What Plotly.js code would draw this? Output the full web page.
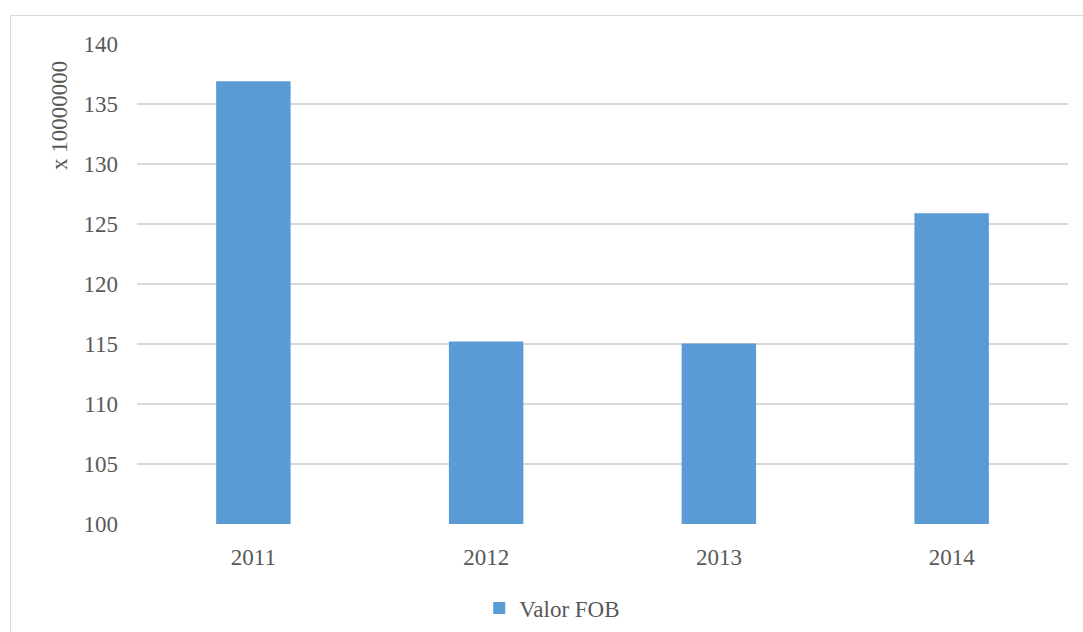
<!DOCTYPE html>
<html>
<head>
<meta charset="utf-8">
<script src="https://cdn.plot.ly/plotly-3.0.1.min.js"></script>
<style>
html,body{margin:0;padding:0;background:#fff;}
#chart{width:1083px;height:632px;}
</style>
</head>
<body>
<div id="chart"></div>
<script>
var years = ['2011', '2012', '2013', '2014'];
var valorFOB = [136.9, 115.2, 115.05, 125.9];
var seriesName = 'Valor FOB';
var yTitle = 'x 10000000';

var font = {family: 'Liberation Serif, Times New Roman, serif', size: 23, color: '#595959'};

var trace = {
  type: 'bar',
  x: years,
  y: valorFOB,
  name: seriesName,
  marker: {color: '#5b9bd5', line: {width: 0}},
  showlegend: true,
  hoverinfo: 'x+y'
};

var layout = {
  width: 1083,
  height: 632,
  margin: {l: 137, r: 15, t: 44, b: 108},
  paper_bgcolor: '#ffffff',
  plot_bgcolor: '#ffffff',
  font: font,
  bargap: 0.68,
  xaxis: {
    type: 'category',
    showgrid: false,
    showline: false,
    zeroline: false,
    ticks: '',
    tickfont: font,
    ticklabelstandoff: 17
  },
  yaxis: {
    range: [100, 140],
    dtick: 5,
    tick0: 100,
    showgrid: true,
    gridcolor: '#d9d9d9',
    gridwidth: 1.5,
    showline: false,
    zeroline: false,
    ticks: '',
    tickfont: font,
    ticklabelstandoff: 18
  },
  showlegend: true,
  legend: {
    orientation: 'h',
    xref: 'container',
    yref: 'container',
    x: 0.4425,
    xanchor: 'left',
    y: (632 - 608) / 632,
    yanchor: 'middle',
    font: font,
    itemwidth: 30,
    bgcolor: 'rgba(0,0,0,0)'
  },
  annotations: [{
    text: yTitle,
    xref: 'paper', yref: 'paper',
    x: (59 - 137) / 931, y: (524 - 116) / 480,
    xanchor: 'center', yanchor: 'middle',
    textangle: -90,
    showarrow: false,
    font: font
  }],
  shapes: [{
    type: 'rect',
    xref: 'paper', yref: 'paper',
    x0: (10.5 - 137) / 931, x1: 1.2,
    y0: -0.5, y1: (524 - 15.5) / 480,
    line: {color: '#d9d9d9', width: 1},
    fillcolor: 'rgba(0,0,0,0)',
    layer: 'below'
  }]
};

Plotly.newPlot('chart', [trace], layout, {displayModeBar: false, staticPlot: true});
</script>
</body>
</html>
